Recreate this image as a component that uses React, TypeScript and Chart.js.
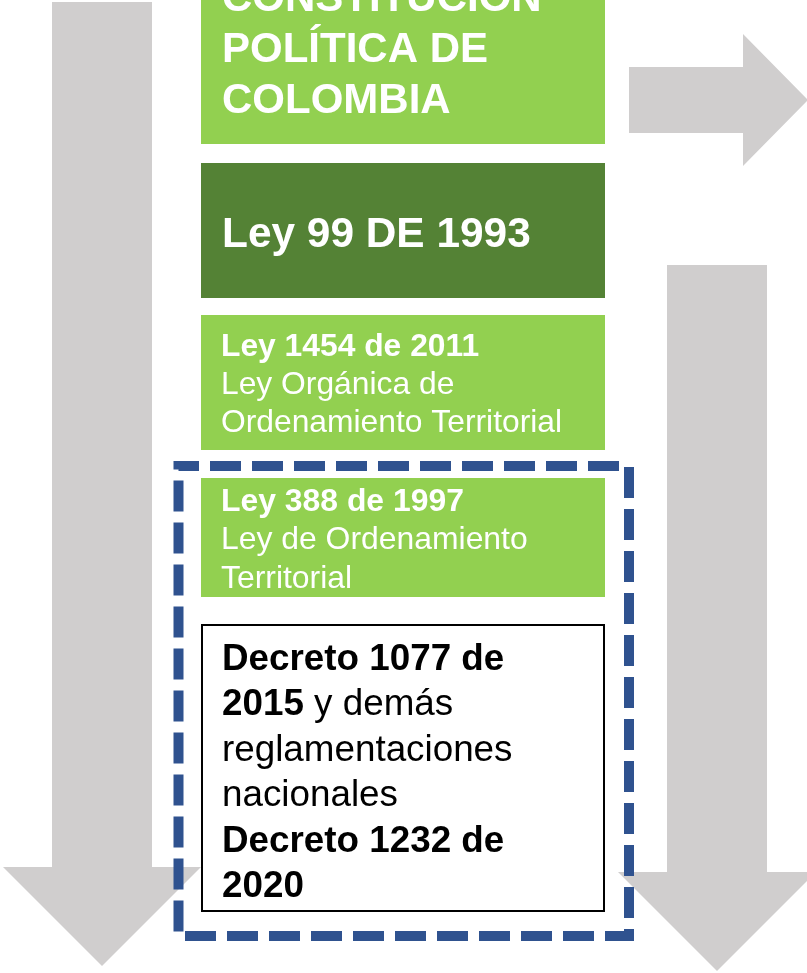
import React, { useEffect, useRef } from "react";
import { Chart, registerables } from "chart.js";

Chart.register(...registerables);

// ---- Content (text of each box) ----
type Run = { t: string; b: boolean };
const constitucionLines: Run[][] = [
  [{ t: "CONSTITUCIÓN", b: true }],
  [{ t: "POLÍTICA DE", b: true }],
  [{ t: "COLOMBIA", b: true }],
];
const ley99Lines: Run[][] = [[{ t: "Ley 99 DE 1993", b: true }]];
const ley1454Lines: Run[][] = [
  [{ t: "Ley 1454 de 2011", b: true }],
  [{ t: "Ley Orgánica de", b: false }],
  [{ t: "Ordenamiento Territorial", b: false }],
];
const ley388Lines: Run[][] = [
  [{ t: "Ley 388 de 1997", b: true }],
  [{ t: "Ley de Ordenamiento", b: false }],
  [{ t: "Territorial", b: false }],
];
const decretoLines: Run[][] = [
  [{ t: "Decreto 1077 de", b: true }],
  [{ t: "2015", b: true }, { t: " y demás", b: false }],
  [{ t: "reglamentaciones", b: false }],
  [{ t: "nacionales", b: false }],
  [{ t: "Decreto 1232 de", b: true }],
  [{ t: "2020", b: true }],
];

// ---- Layout (diagram units = page pixels) ----
const GRAY = "#D0CECE";
const LIGHT_GREEN = "#92D050";
const DARK_GREEN = "#548235";
const BLUE = "#2F528F";
const FONT = "'Liberation Sans', Arial, sans-serif";

const boxes = [
  { x0: 201, x1: 605, y0: -10, y1: 144, fill: LIGHT_GREEN, stroke: null, color: "#FFFFFF", size: 42, tx: 222, firstBase: 11, lineH: 51, lines: constitucionLines },
  { x0: 201, x1: 605, y0: 163, y1: 298, fill: DARK_GREEN, stroke: null, color: "#FFFFFF", size: 42.4, tx: 222, firstBase: 246.5, lineH: 51, lines: ley99Lines },
  { x0: 201, x1: 605, y0: 315, y1: 450, fill: LIGHT_GREEN, stroke: null, color: "#FFFFFF", size: 31.8, tx: 221, firstBase: 356, lineH: 38.2, lines: ley1454Lines },
  { x0: 201, x1: 605, y0: 478, y1: 597, fill: LIGHT_GREEN, stroke: null, color: "#FFFFFF", size: 31.9, tx: 221, firstBase: 510.5, lineH: 38.5, lines: ley388Lines },
  { x0: 201, x1: 605, y0: 624, y1: 912, fill: "#FFFFFF", stroke: "#000000", color: "#000000", size: 36.8, tx: 222, firstBase: 670, lineH: 45.4, lines: decretoLines },
];

function downArrow(cx: number, shaftHalf: number, top: number, headY: number, headHalf: number, tipY: number) {
  return [
    [cx - shaftHalf, top], [cx + shaftHalf, top], [cx + shaftHalf, headY], [cx + headHalf, headY],
    [cx, tipY], [cx - headHalf, headY], [cx - shaftHalf, headY],
  ];
}
function rightArrow(cy: number, shaftHalf: number, left: number, headX: number, headHalf: number, tipX: number) {
  return [
    [left, cy - shaftHalf], [headX, cy - shaftHalf], [headX, cy - headHalf], [tipX, cy],
    [headX, cy + headHalf], [headX, cy + shaftHalf], [left, cy + shaftHalf],
  ];
}
const arrows = [
  downArrow(102, 50, 2, 867, 99, 966),
  downArrow(717, 50, 265, 872, 99, 971),
  rightArrow(100, 33, 629, 743, 66, 808),
];
const dashedFrame = { x0: 178.5, y0: 466, x1: 629, y1: 936 };

const diagramPlugin = {
  id: "diagram",
  afterDraw(chart: any) {
    const { ctx } = chart;
    const xs = chart.scales.x;
    const ys = chart.scales.y;
    const px = (v: number) => xs.getPixelForValue(v);
    const py = (v: number) => ys.getPixelForValue(v);
    ctx.save();

    // arrows
    ctx.fillStyle = GRAY;
    for (const pts of arrows) {
      ctx.beginPath();
      pts.forEach(([vx, vy], i) => (i ? ctx.lineTo(px(vx), py(vy)) : ctx.moveTo(px(vx), py(vy))));
      ctx.closePath();
      ctx.fill();
    }

    // boxes
    for (const b of boxes) {
      const x0 = px(b.x0), x1 = px(b.x1), y0 = py(b.y0), y1 = py(b.y1);
      ctx.fillStyle = b.fill;
      ctx.fillRect(x0, y0, x1 - x0, y1 - y0);
      if (b.stroke) {
        ctx.strokeStyle = b.stroke;
        ctx.lineWidth = 2;
        ctx.strokeRect(x0 + 1, y0 + 1, x1 - x0 - 2, y1 - y0 - 2);
      }
      ctx.fillStyle = b.color;
      ctx.textBaseline = "alphabetic";
      ctx.textAlign = "left";
      b.lines.forEach((runs, i) => {
        let cx = px(b.tx);
        const by = py(b.firstBase + i * b.lineH);
        for (const r of runs) {
          ctx.font = `${r.b ? "bold " : ""}${b.size}px ${FONT}`;
          ctx.fillText(r.t, cx, by);
          cx += ctx.measureText(r.t).width;
        }
      });
    }

    // dashed frame
    const f = dashedFrame;
    ctx.strokeStyle = BLUE;
    ctx.lineWidth = 10;
    ctx.setLineDash([31, 11]);
    ctx.lineDashOffset = 10.5;
    ctx.lineCap = "butt";
    ctx.strokeRect(px(f.x0), py(f.y0), px(f.x1) - px(f.x0), py(f.y1) - py(f.y0));
    ctx.restore();
  },
};

export default function App() {
  const ref = useRef<HTMLCanvasElement | null>(null);
  useEffect(() => {
    document.body.style.margin = "0";
    if (!ref.current) return;
    const chart = new Chart(ref.current, {
      type: "scatter",
      data: { datasets: [{ data: [] }] },
      options: {
        animation: false,
        responsive: false,
        maintainAspectRatio: false,
        layout: { padding: 0 },
        plugins: { legend: { display: false }, tooltip: { enabled: false } },
        scales: {
          x: { type: "linear", min: 0, max: 807, display: false },
          y: { type: "linear", min: 0, max: 973, reverse: true, display: false },
        },
      },
      plugins: [diagramPlugin],
    });
    return () => chart.destroy();
  }, []);
  return (
    <div style={{ position: "absolute", left: 0, top: 0, width: 807, height: 973, background: "#FFFFFF" }}>
      <canvas ref={ref} width={807} height={973} style={{ display: "block", width: 807, height: 973 }} />
    </div>
  );
}
